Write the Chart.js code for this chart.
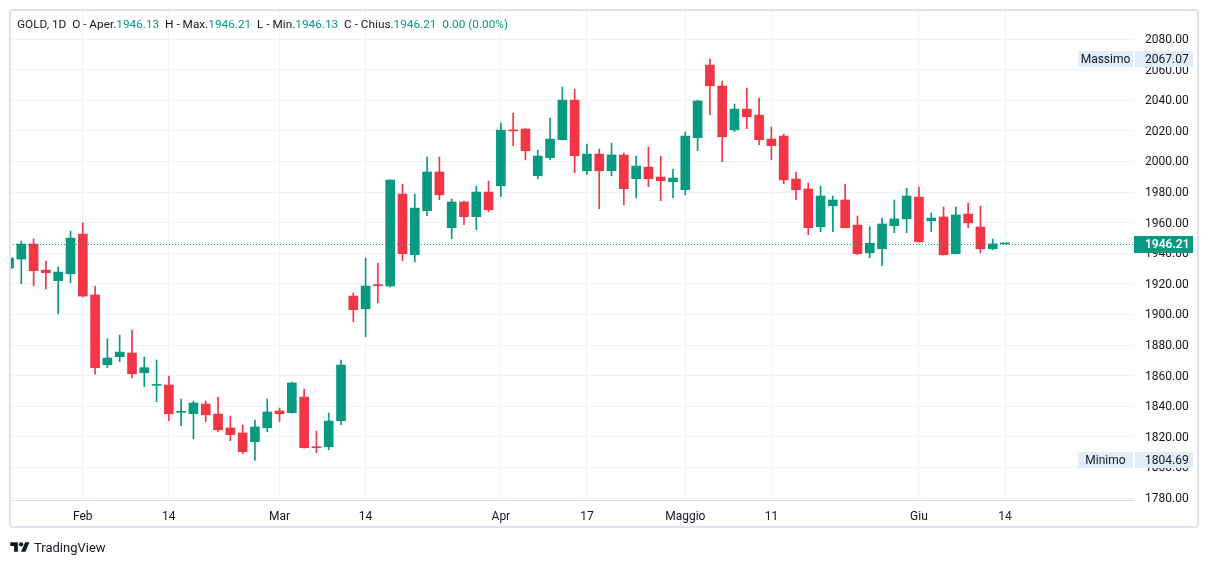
<!DOCTYPE html>
<html>
<head>
<meta charset="utf-8">
<script src="https://cdn.jsdelivr.net/npm/chart.js@4.4.0/dist/chart.umd.min.js"></script>
<style>
html,body{margin:0;padding:0;background:#fff;width:1209px;height:564px;overflow:hidden;font-family:Roboto,"Noto Sans",sans-serif;color:#131722}
#c{position:absolute;left:0;top:0}
#frame{position:absolute;left:9px;top:9px;width:1186px;height:515px;border:2px solid #e0e3eb;border-radius:3px;pointer-events:none}
#legend{position:absolute;left:17px;top:17px;font-size:11.8px;line-height:14px;white-space:pre;color:#131722}
#legend .g{color:#089981}
#logo{position:absolute;left:10px;top:539px;height:16px;display:flex;align-items:center;font-size:13px;color:#131722}
#logo svg{margin-right:4px}
</style>
</head>
<body>
<canvas id="c" width="1209" height="564"></canvas>
<div id="frame"></div>
<div id="legend"></div>
<div id="logo"><svg width="20" height="14" viewBox="0 0 36 26"><path d="M14 22H7V11H0V4h14v18z" fill="#131722"/><circle cx="20" cy="8" r="4" fill="#131722"/><path d="M28 22h-8l7.5-18h8z" fill="#131722"/></svg>TradingView</div>
<script>
// GOLD 1D candles, index 0 = leftmost (clipped) bar
const opens =[1930.3,1936.2,1946.0,1929.0,1922.0,1926.6,1952.5,1912.7,1867.1,1872.4,1874.8,1861.9,1853.6,1853.9,1836.0,1835.1,1841.4,1834.9,1825.8,1822.5,1816.8,1825.9,1836.9,1835.8,1846.0,1813.3,1813.5,1830.5,1912.0,1903.7,1919.2,1918.6,1978.7,1939.0,1967.8,1993.1,1956.7,1973.5,1963.9,1980.0,1984.1,2020.5,2021.2,1990.7,2002.4,2014.2,2040.1,1993.9,2004.8,1993.9,2004.2,1988.7,1996.3,1989.8,1986.7,1981.5,2015.5,2063.0,2049.3,2020.7,2034.2,2030.3,2014.6,2016.6,1988.5,1982.0,1957.3,1971.0,1974.8,1958.4,1940.3,1942.9,1958.0,1962.5,1976.7,1961.2,1963.7,1939.7,1965.6,1957.1,1942.9,1946.13];
const highs =[1939.0,1948.0,1949.3,1934.9,1931.0,1954.5,1959.9,1918.6,1884.1,1886.5,1889.8,1872.2,1870.2,1859.7,1844.7,1843.4,1843.4,1846.0,1833.6,1827.7,1831.0,1844.7,1838.8,1855.8,1851.2,1823.8,1835.6,1870.2,1914.0,1936.9,1933.6,1988.0,1985.2,1978.7,2002.9,2002.9,1975.4,1974.1,1983.9,1987.2,2025.1,2031.6,2021.4,2007.5,2028.4,2048.6,2047.3,2011.4,2008.1,2012.0,2005.5,2003.5,2009.4,2003.5,1995.0,2019.2,2040.1,2067.07,2052.5,2037.5,2048.0,2041.4,2022.5,2017.9,1993.1,1985.9,1983.9,1977.4,1985.2,1964.3,1957.3,1963.0,1974.8,1982.6,1983.3,1966.3,1970.2,1970.2,1972.8,1970.8,1949.3,1946.21];
const lows  =[1928.0,1920.1,1918.6,1916.6,1900.3,1920.7,1911.4,1861.0,1865.2,1869.1,1858.6,1852.7,1842.9,1830.5,1827.3,1818.8,1829.9,1823.3,1817.5,1809.0,1804.69,1823.3,1829.9,1835.5,1812.5,1809.6,1811.6,1827.9,1895.2,1885.4,1907.5,1917.9,1935.1,1934.4,1964.5,1975.0,1949.5,1958.6,1955.4,1967.1,1976.9,2010.3,2001.1,1988.7,2001.1,2014.0,1992.6,1991.3,1969.1,1990.7,1971.7,1976.3,1983.5,1974.3,1976.3,1978.2,2007.0,2030.5,1999.8,2019.4,2021.4,2010.9,2001.1,1985.4,1975.0,1952.1,1954.1,1954.1,1956.5,1939.0,1937.1,1931.8,1953.4,1953.4,1947.3,1954.1,1938.8,1939.5,1956.7,1940.3,1942.3,1946.13];
const closes=[1936.9,1946.0,1928.6,1927.3,1927.7,1949.9,1912.0,1865.2,1871.5,1875.4,1861.2,1865.2,1854.0,1835.1,1836.3,1842.1,1834.4,1824.6,1821.4,1810.3,1826.4,1836.2,1835.1,1855.2,1812.9,1812.9,1830.3,1866.9,1903.1,1918.6,1918.8,1987.8,1939.7,1969.5,1993.1,1978.2,1973.5,1963.9,1980.0,1968.4,2020.5,2020.0,2007.0,2003.5,2014.6,2040.1,2003.7,2004.8,1993.9,2004.2,1982.2,1997.0,1988.7,1987.4,1989.2,2016.6,2039.5,2049.5,2016.1,2034.2,2029.2,2014.2,2010.3,1988.0,1981.5,1956.7,1977.4,1974.8,1956.7,1939.7,1946.5,1959.1,1962.4,1977.4,1947.5,1963.0,1939.0,1965.0,1959.9,1942.9,1946.13,1946.21];
const xTickPos   =[6,13,22,29,40,47,55,62,74,81];
const xTickLabels=['Feb','14','Mar','14','Apr','17','Maggio','11','Giu','14'];
const yTicks=[1780,1800,1820,1840,1860,1880,1900,1920,1940,1960,1980,2000,2020,2040,2060,2080];
const maxPrice=2067.07, minPrice=1804.69;

const UP='#089981', DOWN='#f23645', GRID='#f0f3fa', TXT='#131722', FONT='Roboto, "Noto Sans", sans-serif';
const n=opens.length, last=n-1, lastPrice=closes[last];
const idx=opens.map((_,i)=>i);
const colors=idx.map(i=>closes[i]>=opens[i]?UP:DOWN);

// header legend
document.getElementById('legend').innerHTML=
  `GOLD, 1D  O - Aper.<span class="g">${opens[last].toFixed(2)}</span>  H - Max.<span class="g">${highs[last].toFixed(2)}</span>  L - Min.<span class="g">${lows[last].toFixed(2)}</span>  C - Chius.<span class="g">${closes[last].toFixed(2)}</span>  <span class="g">${(0).toFixed(2)} (${(0).toFixed(2)}%)</span>`;

function tag(ctx,x,yc,w,h,bg,text,color,align,bold){
  ctx.fillStyle=bg; ctx.fillRect(x,Math.round(yc-h/2),w,h);
  ctx.fillStyle=color; ctx.font=`${bold?'600 ':''}12px ${FONT}`; ctx.textBaseline='middle';
  if(align==='center'){ctx.textAlign='center'; ctx.fillText(text,x+w/2,yc+1);}
  else {ctx.textAlign='left'; ctx.fillText(text,1145,yc+1);}
}

const overlay={id:'overlay',
  afterDatasetsDraw(c){
    const {ctx,chartArea:a,scales:{y}}=c; const py=Math.round(y.getPixelForValue(lastPrice))+0.5;
    ctx.save(); ctx.strokeStyle=UP; ctx.lineWidth=1; ctx.setLineDash([1,2]);
    ctx.beginPath(); ctx.moveTo(a.left,py); ctx.lineTo(a.right,py); ctx.stroke(); ctx.restore();
  },
  afterDraw(c){
    const {ctx,chartArea:a,scales:{y}}=c; ctx.save();
    const hy=y.getPixelForValue(maxPrice), ly=y.getPixelForValue(minPrice);
    tag(ctx,a.right-56,hy,55,16,'#e3ecfb','Massimo',TXT,'center');
    tag(ctx,a.right+1,hy,58,16,'#e3ecfb',maxPrice.toFixed(2),TXT,'left');
    tag(ctx,a.right-56,ly,55,16,'#e3ecfb','Minimo',TXT,'center');
    tag(ctx,a.right+1,ly,58,16,'#e3ecfb',minPrice.toFixed(2),TXT,'left');
    tag(ctx,a.right,y.getPixelForValue(lastPrice)+0.5,59,17,UP,lastPrice.toFixed(2),'#fff','left',true);
    ctx.restore();
  }
};

new Chart(document.getElementById('c'),{
  type:'bar',
  data:{datasets:[
    {label:'body',data:idx.map(i=>({x:i,y:[opens[i],closes[i]]})),backgroundColor:colors,barThickness:9,minBarLength:1,grouped:false},
    {label:'wick',data:idx.map(i=>({x:i,y:[lows[i],highs[i]]})),backgroundColor:colors,barThickness:1,grouped:false}
  ]},
  options:{responsive:false,animation:false,devicePixelRatio:1,
    layout:{padding:{left:10,top:10,right:10,bottom:36}},
    plugins:{legend:{display:false},tooltip:{enabled:false}},
    scales:{
      x:{type:'linear',min:0.08,max:91.49,offset:false,
        afterBuildTicks:s=>{s.ticks=xTickPos.map(v=>({value:v}));},
        afterFit:s=>{s.height=28; s.paddingLeft=0; s.paddingRight=0;},
        grid:{color:GRID,drawTicks:false,offset:false},border:{display:true,color:'#e0e3eb'},
        ticks:{padding:10,autoSkip:false,maxRotation:0,color:TXT,font:{family:FONT,size:12},callback:v=>xTickLabels[xTickPos.indexOf(v)]}},
      y:{position:'right',min:1778.7,max:2099,
        afterBuildTicks:s=>{s.ticks=yTicks.map(v=>({value:v}));},
        afterFit:s=>{s.width=65; s.paddingTop=0; s.paddingBottom=0;},
        grid:{color:GRID,drawTicks:false},border:{display:false},
        ticks:{padding:11,labelOffset:1,color:TXT,font:{family:FONT,size:12},callback:v=>v.toFixed(2)}}
    }
  },
  plugins:[overlay]
});
</script>
</body>
</html>
